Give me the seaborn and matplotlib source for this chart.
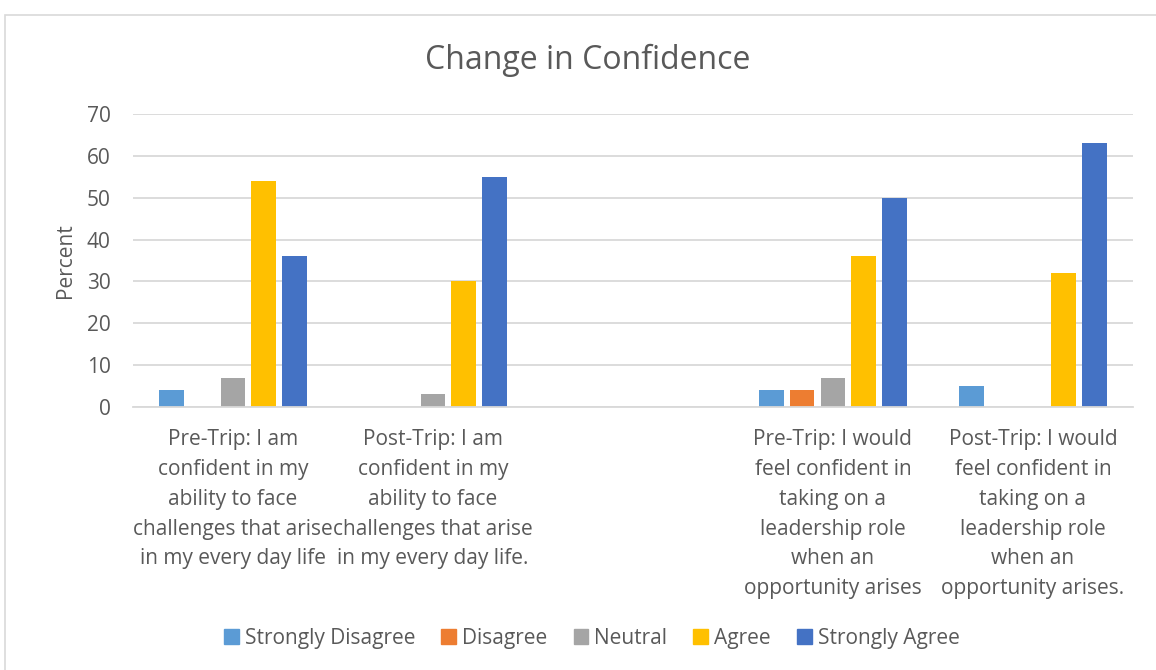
import numpy as np
import pandas as pd
import matplotlib
matplotlib.use("Agg")
import matplotlib.pyplot as plt
from matplotlib.patches import Rectangle
import seaborn as sns

# data
categories = [
    "Pre-Trip: I am\nconfident in my\nability to face\nchallenges that arise\nin my every day life",
    "Post-Trip: I am\nconfident in my\nability to face\nchallenges that arise\nin my every day life.",
    "Pre-Trip: I would\nfeel confident in\ntaking on a\nleadership role\nwhen an\nopportunity arises",
    "Post-Trip: I would\nfeel confident in\ntaking on a\nleadership role\nwhen an\nopportunity arises.",
]
responses = ["Strongly Disagree", "Disagree", "Neutral", "Agree", "Strongly Agree"]
strongly_disagree = [4, 0, 4, 5]
disagree = [0, 0, 4, 0]
neutral = [7, 3, 7, 0]
agree = [54, 30, 36, 32]
strongly_agree = [36, 55, 50, 63]

colors = ["#5B9BD5", "#ED7D31", "#A5A5A5", "#FFC000", "#4472C4"]

rows = []
for resp, vals in zip(responses, [strongly_disagree, disagree, neutral, agree, strongly_agree]):
    for cat, v in zip(categories, vals):
        rows.append({"Question": cat, "Response": resp, "Percent": v})
df = pd.DataFrame(rows)

# blank slot between the two question pairs
order = categories[:2] + [" "] + categories[2:]

sns.set_theme(style="white")
plt.rcParams["font.family"] = ["Open Sans", "DejaVu Sans"]
txt = "#595959"
fs = 15

fig = plt.figure(figsize=(11.56, 6.7), dpi=100)
ax = fig.add_axes([0.115, 0.3925, 0.865, 0.4375])

sns.barplot(data=df, x="Question", y="Percent", hue="Response", order=order,
            hue_order=responses, palette=colors, width=0.77, gap=0.2,
            saturation=1, ax=ax, edgecolor="none")

ax.set_ylim(0, 70)
ax.set_yticks(range(0, 71, 10))
ax.yaxis.grid(True, color="#D9D9D9", linewidth=1.3)
ax.set_axisbelow(True)
for s in ["top", "right", "left"]:
    ax.spines[s].set_visible(False)
ax.spines["bottom"].set_color("#D9D9D9")
ax.spines["bottom"].set_linewidth(1.3)
ax.tick_params(axis="both", length=0, labelsize=fs, colors=txt)
ax.tick_params(axis="x", pad=16)
ax.tick_params(axis="y", pad=16)
for lbl in ax.get_xticklabels():
    lbl.set_linespacing(1.55)
ax.set_xlabel("")
ax.set_ylabel("Percent", fontsize=fs, color=txt, labelpad=8)

ax.legend_.remove()
handles = [Rectangle((0, 0), 1, 1, color=c) for c in colors]
fig.legend(handles, responses, loc="center", bbox_to_anchor=(0.512, 0.047), ncol=5,
           frameon=False, fontsize=fs, handlelength=0.7, handleheight=0.7,
           handletextpad=0.3, columnspacing=1.25, labelcolor=txt)

fig.text(0.508, 0.91, "Change in Confidence", ha="center", va="center",
         fontsize=23, color=txt)

fig.patches.append(Rectangle((5 / 1156, -0.01), 1.1, 1 - 15 / 670 + 0.01,
                             transform=fig.transFigure, fill=False,
                             edgecolor="#D9D9D9", linewidth=1.2))

fig.savefig("out.png", dpi=100)
